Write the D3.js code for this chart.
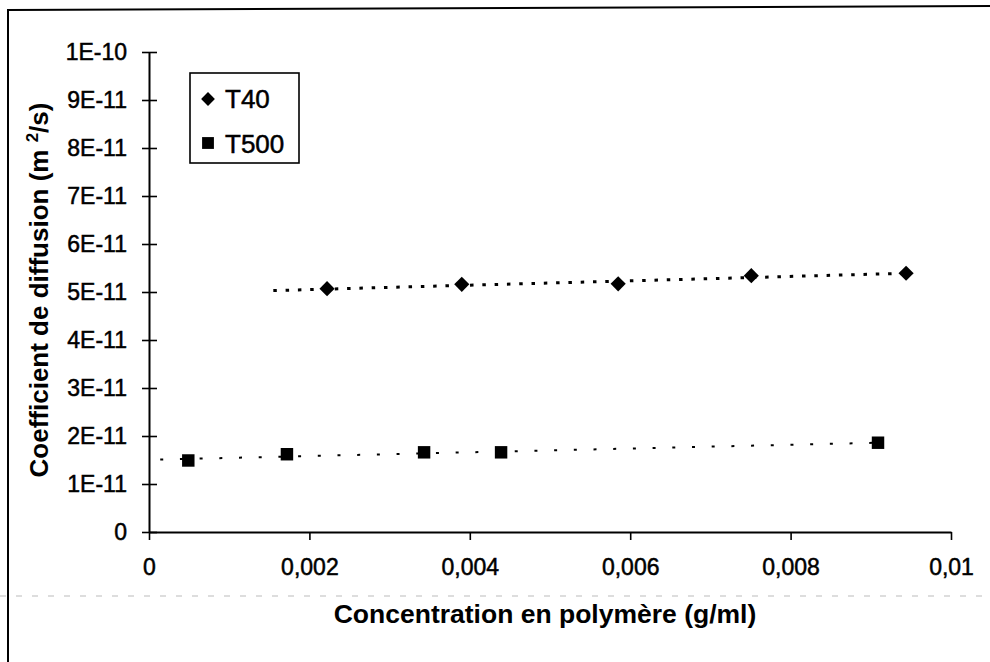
<!DOCTYPE html>
<html>
<head>
<meta charset="utf-8">
<script src="https://cdn.jsdelivr.net/npm/d3@7"></script>
<style>
  html, body { margin: 0; padding: 0; background: #fff; }
  svg { display: block; }
  text { font-family: "Liberation Sans", Arial, sans-serif; fill: #000; }
</style>
</head>
<body>
<svg id="chart" width="990" height="662"></svg>
<script>
// ---- data ----
const t40X = [0.00222, 0.00390, 0.00585, 0.00751, 0.00944];
const t40Y = [5.07e-11, 5.16e-11, 5.17e-11, 5.34e-11, 5.39e-11];
const t500X = [0.00049, 0.00172, 0.00343, 0.00439, 0.00909];
const t500Y = [1.49e-11, 1.62e-11, 1.66e-11, 1.66e-11, 1.86e-11];
// linear trendlines (end points)
const t40TrendX = [0.00155, 0.00944];
const t40TrendY = [5.03e-11, 5.39e-11];
const t500TrendX = [0.00014, 0.00909];
const t500TrendY = [1.51e-11, 1.86e-11];
const xTicks = [0, 0.002, 0.004, 0.006, 0.008, 0.01];
const xTickLabels = ["0", "0,002", "0,004", "0,006", "0,008", "0,01"];
const yTicks = [0, 1e-11, 2e-11, 3e-11, 4e-11, 5e-11, 6e-11, 7e-11, 8e-11, 9e-11, 1e-10];
const yTickLabels = ["0", "1E-11", "2E-11", "3E-11", "4E-11", "5E-11", "6E-11", "7E-11", "8E-11", "9E-11", "1E-10"];
const seriesNames = ["T40", "T500"];

const svg = d3.select("#chart");

// outer frame (left and top edges only visible)
svg.append("line").attr("x1", 8).attr("y1", 10).attr("x2", 990).attr("y2", 6)
  .attr("stroke", "#000").attr("stroke-width", 2);
svg.append("line").attr("x1", 8).attr("y1", 9).attr("x2", 8).attr("y2", 662)
  .attr("stroke", "#000").attr("stroke-width", 2);
// faint scan line
svg.append("line").attr("x1", 0).attr("y1", 596).attr("x2", 990).attr("y2", 596)
  .attr("stroke", "#bbb").attr("stroke-width", 1).attr("stroke-dasharray", "6 10");

const x = d3.scaleLinear().domain([0, 0.01]).range([149, 951]);
const y = d3.scaleLinear().domain([0, 1e-10]).range([532, 52]);

const labelFont = 23;

// y axis (cross ticks)
const yAxis = d3.axisLeft(y).tickValues(yTicks)
  .tickFormat((d, i) => yTickLabels[i]).tickSizeInner(0).tickSizeOuter(0).tickPadding(22);
const gy = svg.append("g").attr("transform", "translate(149,0)").call(yAxis);
gy.select(".domain").attr("stroke", "#000").attr("stroke-width", 2);
gy.selectAll(".tick line").attr("x1", -7).attr("x2", 8).attr("stroke", "#000").attr("stroke-width", 1.6);
gy.selectAll(".tick text").attr("font-size", labelFont).attr("font-family", "Liberation Sans, Arial, sans-serif")
  .attr("fill", "#000").attr("stroke", "#000").attr("stroke-width", 0.5);

// x axis (outside ticks)
const xAxis = d3.axisBottom(x).tickValues(xTicks)
  .tickFormat((d, i) => xTickLabels[i]).tickSizeInner(8).tickSizeOuter(0).tickPadding(19);
const gx = svg.append("g").attr("transform", "translate(0,532)").call(xAxis);
gx.select(".domain").attr("stroke", "#000").attr("stroke-width", 2);
gx.selectAll(".tick line").attr("stroke", "#000").attr("stroke-width", 1.6);
gx.selectAll(".tick text").attr("font-size", labelFont).attr("font-family", "Liberation Sans, Arial, sans-serif")
  .attr("fill", "#000").attr("stroke", "#000").attr("stroke-width", 0.5);

// axis titles
svg.append("text").attr("x", 545).attr("y", 623).attr("text-anchor", "middle")
  .attr("font-size", 26.5).attr("font-weight", "bold").text("Concentration en polymère (g/ml)");
const yt = svg.append("text").attr("transform", "translate(48,290) rotate(-90)")
  .attr("text-anchor", "middle").attr("font-size", 26).attr("font-weight", "bold");
yt.append("tspan").text("Coefficient de diffusion (m ");
yt.append("tspan").attr("font-size", 17).attr("dy", -10).text("2");
yt.append("tspan").attr("dy", 10).text("/s)");

// trendlines
const line = d3.line().x(d => x(d[0])).y(d => y(d[1]));
svg.append("path").datum(d3.zip(t40TrendX, t40TrendY)).attr("d", line)
  .attr("fill", "none").attr("stroke", "#000").attr("stroke-width", 3)
  .attr("stroke-dasharray", "3.5 8.8");
svg.append("path").datum(d3.zip(t500TrendX, t500TrendY)).attr("d", line)
  .attr("fill", "none").attr("stroke", "#000").attr("stroke-width", 2)
  .attr("stroke-dasharray", "3 16.7");

// markers
const diamond = d3.symbol(d3.symbolSquare, 115);
const square = d3.symbol(d3.symbolSquare, 155);
svg.append("g").selectAll("path").data(d3.zip(t40X, t40Y)).join("path")
  .attr("d", diamond)
  .attr("transform", d => `translate(${x(d[0])},${y(d[1])}) rotate(45)`)
  .attr("fill", "#000");
svg.append("g").selectAll("path").data(d3.zip(t500X, t500Y)).join("path")
  .attr("d", square)
  .attr("transform", d => `translate(${x(d[0])},${y(d[1])})`)
  .attr("fill", "#000");

// legend
const lg = svg.append("g");
lg.append("rect").attr("x", 190).attr("y", 73).attr("width", 109).attr("height", 90)
  .attr("fill", "#fff").attr("stroke", "#000").attr("stroke-width", 1.6);
lg.append("path").attr("d", d3.symbol(d3.symbolSquare, 95)).attr("transform", "translate(208,99) rotate(45)").attr("fill", "#000");
lg.append("path").attr("d", d3.symbol(d3.symbolSquare, 140)).attr("transform", "translate(208,143)").attr("fill", "#000");
lg.append("text").attr("x", 225).attr("y", 108).attr("font-size", 26)
  .attr("stroke", "#000").attr("stroke-width", 0.5).text(seriesNames[0]);
lg.append("text").attr("x", 225).attr("y", 153).attr("font-size", 26)
  .attr("stroke", "#000").attr("stroke-width", 0.5).text(seriesNames[1]);
</script>
</body>
</html>
